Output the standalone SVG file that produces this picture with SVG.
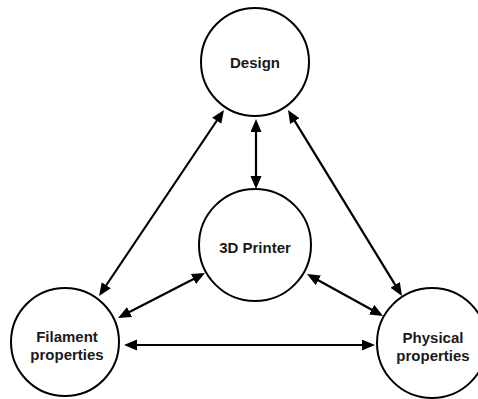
<svg xmlns="http://www.w3.org/2000/svg" width="478" height="399" viewBox="0 0 478 399">
  <style>
    .node circle { fill: #ffffff; stroke: #000000; stroke-width: 2; }
    .node text { font-family: "Liberation Sans", Arial, sans-serif; font-weight: bold; font-size: 15px; fill: #1a1a1a; text-anchor: middle; }
    .links line { stroke: #000000; stroke-width: 2.2; fill: none; marker-start: url(#head); marker-end: url(#head); }
  </style>
  <defs>
    <!-- filled arrowhead, tip sits 3px beyond each line end -->
    <marker id="head" markerUnits="userSpaceOnUse" markerWidth="14" markerHeight="12" refX="10" refY="5.5" orient="auto-start-reverse">
      <path d="M0,0 L13,5.5 L0,11 Z" fill="#000000"/>
    </marker>
  </defs>
  <rect width="478" height="399" fill="#ffffff"/>

  <g class="links">
    <line x1="256" y1="122" x2="256" y2="186"/>
    <line x1="222.3" y1="112.5" x2="100.7" y2="293.5"/>
    <line x1="289.6" y1="112.6" x2="400.4" y2="293.4"/>
    <line x1="120.7" y1="316.6" x2="202.3" y2="274.4"/>
    <line x1="309.6" y1="275.5" x2="380.4" y2="314.5"/>
    <line x1="127" y1="345" x2="372" y2="345"/>
  </g>

  <g id="design" class="node">
    <circle cx="255" cy="62" r="54"/>
    <text x="255" y="68">Design</text>
  </g>
  <g id="printer" class="node">
    <circle cx="255" cy="245" r="56"/>
    <text x="255" y="253">3D Printer</text>
  </g>
  <g id="filament" class="node">
    <circle cx="65" cy="342" r="54"/>
    <text x="67" y="342">Filament</text>
    <text x="67" y="360">properties</text>
  </g>
  <g id="physical" class="node">
    <circle cx="432" cy="343" r="55"/>
    <text x="433" y="343">Physical</text>
    <text x="433" y="361">properties</text>
  </g>
</svg>
